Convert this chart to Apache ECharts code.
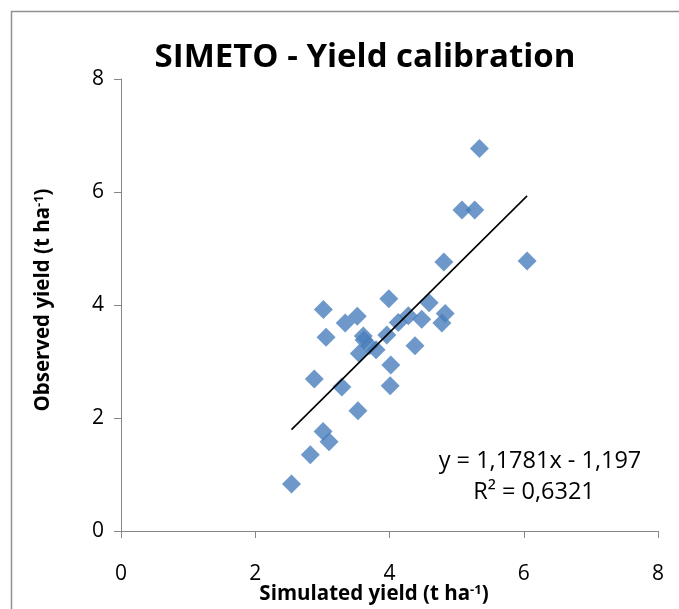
<!DOCTYPE html>
<html>
<head>
<meta charset="utf-8">
<script src="https://cdn.jsdelivr.net/npm/echarts@6/dist/echarts.min.js"></script>
<style>
html,body{margin:0;padding:0;background:#fff;}
#chart{width:679px;height:609px;}
</style>
</head>
<body>
<div id="chart"></div>
<script>
// Simulated yield (t ha-1)
var simulated = [2.54, 2.82, 3.01, 3.10, 3.53, 2.88, 3.29, 4.01, 4.02, 3.055, 3.015, 3.34, 3.52, 3.99, 3.61, 3.62, 3.70, 3.55, 3.80, 3.96, 4.13, 4.28, 4.48, 4.38, 4.59, 4.83, 4.78, 4.81, 5.08, 5.27, 5.34, 6.05];
// Observed yield (t ha-1)
var observed  = [0.83, 1.35, 1.76, 1.58, 2.13, 2.69, 2.55, 2.57, 2.94, 3.43, 3.92, 3.68, 3.80, 4.11, 3.45, 3.38, 3.28, 3.14, 3.21, 3.47, 3.69, 3.81, 3.75, 3.28, 4.04, 3.85, 3.68, 4.76, 5.68, 5.68, 6.77, 4.78];
var trendSlope = 1.1781;
var trendIntercept = -1.197;
var trendX = [2.54, 6.05];
var xTicks = [0, 2, 4, 6, 8];
var yTicks = [0, 2, 4, 6, 8];
var titleText = 'SIMETO - Yield calibration';
var eqText = 'y = 1,1781x - 1,197';
var r2Text = 'R² = 0,6321';

var pts = simulated.map(function (x, i) { return [x, observed[i]]; });
var trend = trendX.map(function (x) { return [x, trendSlope * x + trendIntercept]; });

var FONT = 'Open Sans';
var chart = echarts.init(document.getElementById('chart'), null, {renderer: 'canvas'});
chart.setOption({
  backgroundColor: '#ffffff',
  animation: false,
  grid: {left: 121, right: 21, top: 79, bottom: 78, containLabel: false},
  xAxis: {
    type: 'value', min: xTicks[0], max: xTicks[xTicks.length - 1], interval: 2,
    axisLine: {show: true, onZero: false, lineStyle: {color: '#868686', width: 1}},
    axisTick: {show: true, inside: false, length: 7, lineStyle: {color: '#868686'}},
    splitLine: {show: false},
    axisLabel: {color: '#000', fontSize: 21, fontFamily: FONT, margin: 33}
  },
  yAxis: {
    type: 'value', min: yTicks[0], max: yTicks[yTicks.length - 1], interval: 2,
    axisLine: {show: true, onZero: false, lineStyle: {color: '#868686', width: 1}},
    axisTick: {show: true, inside: false, length: 7, lineStyle: {color: '#868686'}},
    splitLine: {show: false},
    axisLabel: {color: '#000', fontSize: 21, fontFamily: FONT, margin: 17}
  },
  series: [
    {
      type: 'scatter', data: pts, symbol: 'diamond', symbolSize: 19,
      itemStyle: {color: '#4a7ebb'}, z: 3
    },
    {
      type: 'line', data: trend, symbol: 'none', z: 4,
      lineStyle: {color: '#000', width: 1.6}
    }
  ],
  graphic: [
    {type: 'rect', left: 9, top: 9, shape: {x: 0, y: 0, width: 700, height: 640}, style: {fill: 'none', stroke: '#909090', lineWidth: 1.5}, z: -1},
    {type: 'text', x: 365, y: 58, style: {text: titleText, fill: '#000', font: 'bold 33px ' + FONT, textAlign: 'center', textVerticalAlign: 'middle'}},
    {type: 'text', x: 540, y: 461, style: {text: eqText, fill: '#000', font: '23.5px ' + FONT, textAlign: 'center', textVerticalAlign: 'middle'}},
    {type: 'text', x: 534, y: 492, style: {text: r2Text, fill: '#000', font: '23.5px ' + FONT, textAlign: 'center', textVerticalAlign: 'middle'}},
    {type: 'text', x: 374, y: 594, style: {
      rich: {b: {font: 'bold 20.5px ' + FONT, fill: '#000'}, s: {font: 'bold 13px ' + FONT, fill: '#000', verticalAlign: 'top', padding: [0,0,8,0]}},
      text: '{b|Simulated yield (t ha}{s|-1}{b|)}', textAlign: 'center', textVerticalAlign: 'middle'}},
    {type: 'text', x: 43, y: 300, rotation: Math.PI / 2, style: {
      rich: {b: {font: 'bold 20.5px ' + FONT, fill: '#000'}, s: {font: 'bold 13px ' + FONT, fill: '#000', verticalAlign: 'top', padding: [0,0,8,0]}},
      text: '{b|Observed yield (t ha}{s|-1}{b|)}', textAlign: 'center', textVerticalAlign: 'middle'}}
  ]
});
</script>
</body>
</html>
